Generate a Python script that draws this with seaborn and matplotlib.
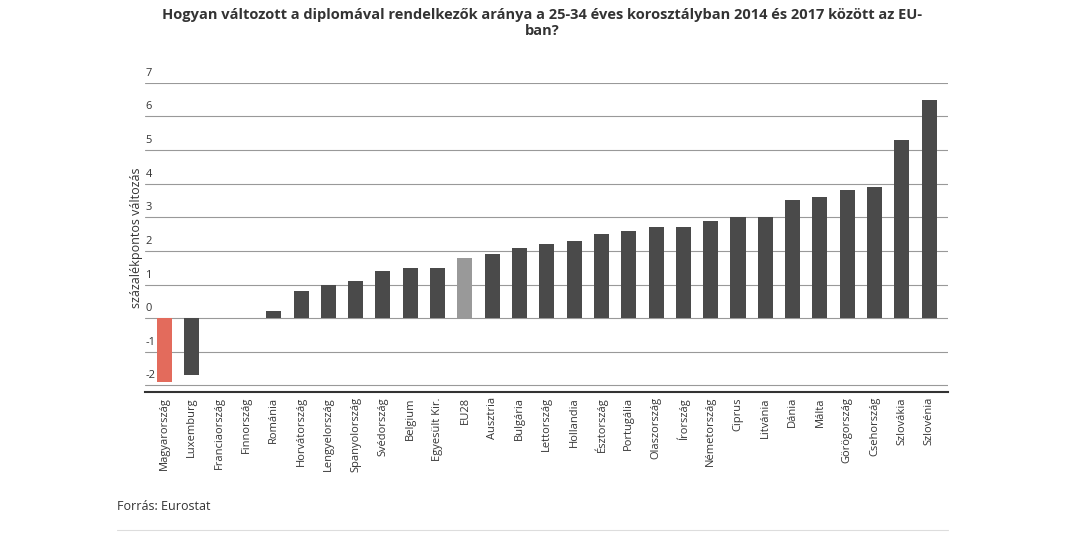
import matplotlib
matplotlib.use("Agg")
import matplotlib.pyplot as plt
import matplotlib.transforms as mtransforms
import seaborn as sns
import pandas as pd

countries = ["Magyarország", "Luxemburg", "Franciaország", "Finnország", "Románia",
             "Horvátország", "Lengyelország", "Spanyolország", "Svédország", "Belgium",
             "Egyesült Kir.", "EU28", "Ausztria", "Bulgária", "Lettország", "Hollandia",
             "Észtország", "Portugália", "Olaszország", "Írország", "Németország",
             "Ciprus", "Litvánia", "Dánia", "Málta", "Görögország", "Csehország",
             "Szlovákia", "Szlovénia"]
values = [-1.9, -1.7, 0.0, 0.0, 0.2, 0.8, 1.0, 1.1, 1.4, 1.5, 1.5, 1.8, 1.9, 2.1, 2.2,
          2.3, 2.5, 2.6, 2.7, 2.7, 2.9, 3.0, 3.0, 3.5, 3.6, 3.8, 3.9, 5.3, 6.5]
yticks = [-2, -1, 0, 1, 2, 3, 4, 5, 6, 7]

sns.set_style("white")
plt.rcParams["font.family"] = ["Open Sans", "DejaVu Sans"]

df = pd.DataFrame({"orszag": countries, "valtozas": values})
palette = {c: "#4a4a4a" for c in countries}
palette["Magyarország"] = "#fa5a45"
palette["EU28"] = "#999999"

fig = plt.figure(figsize=(10.85, 5.41), dpi=100)
ax = fig.add_axes([0.134, 0.275, 0.74, 0.572])
sns.barplot(data=df, x="orszag", y="valtozas", hue="orszag", palette=palette,
            width=0.55, legend=False, linewidth=0, ax=ax)
ax.set_ylim(-2.2, 7)
ax.set_xlim(-0.7, len(countries) - 0.3)
ax.set_yticks(yticks)
ax.yaxis.grid(True, color="#999999", linewidth=0.8)
ax.set_axisbelow(True)
ax.tick_params(axis="y", length=0, labelleft=False)
ax.tick_params(axis="x", length=0, labelsize=8, rotation=90, labelcolor="#333333")
trans = mtransforms.blended_transform_factory(ax.transAxes, ax.transData)
for t in yticks:
    ax.text(0.0, t + 0.12, str(t), transform=trans, fontsize=8, color="#333333",
            ha="left", va="bottom")
for s in ["top", "right", "left"]:
    ax.spines[s].set_visible(False)
ax.spines["bottom"].set_color("#333333")
ax.spines["bottom"].set_linewidth(1.5)
ax.set_xlabel("")
ax.set_ylabel("százalékpontos változás", fontsize=9, color="#333333", labelpad=2)

fig.text(0.5, 0.985, "Hogyan változott a diplomával rendelkezők aránya a 25-34 éves korosztályban 2014 és 2017 között az EU-\nban?",
         ha="center", va="top", fontsize=10.5, fontweight="bold", color="#333333")
fig.text(0.108, 0.057, "Forrás: Eurostat", fontsize=9, color="#333333")
fig.add_artist(plt.Line2D([0.108, 0.874], [0.02, 0.02], color="#dddddd", linewidth=0.8))

fig.savefig("out.png", dpi=100)
